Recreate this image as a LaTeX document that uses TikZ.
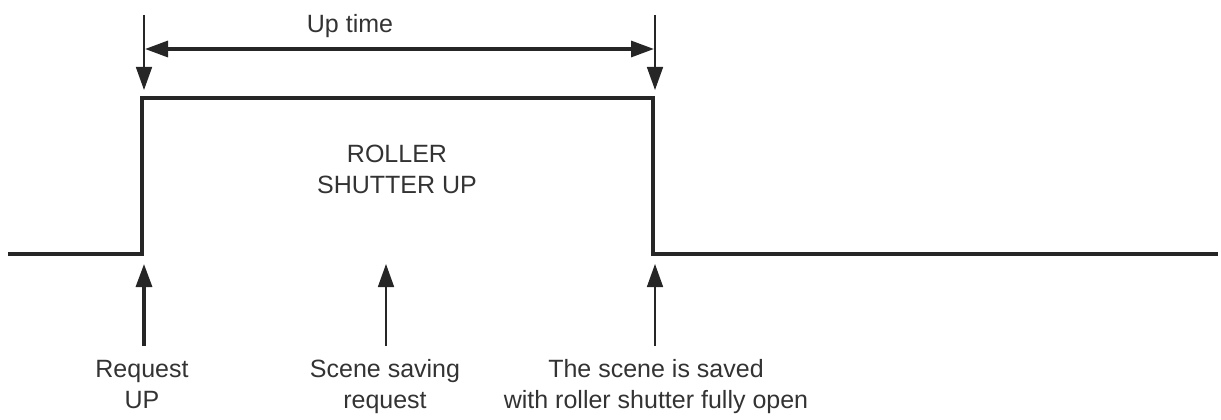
\documentclass[tikz,border=0pt]{standalone}
\usepackage{fontspec}
\setmainfont{Liberation Sans}
\usetikzlibrary{arrows.meta}
\begin{document}
\begin{tikzpicture}[x=1pt,y=-1pt,
  signal/.style={line width=4pt, draw=black!85, line join=miter},
  tip/.style={-{Triangle[length=23pt,width=16pt]}},
  thinarrow/.style={line width=1.6pt, draw=black!85, tip},
  thickarrow/.style={line width=3.2pt, draw=black!85, tip},
  lbl/.style={font=\fontsize{25}{31}\selectfont, text=black!80, align=center, inner sep=0pt, anchor=base}]
\useasboundingbox (0,0) rectangle (1221,420);
% signal
\coordinate (s0) at (8,254);
\coordinate (s1) at (142,254);
\coordinate (s2) at (142,98);
\coordinate (s3) at (653,98);
\coordinate (s4) at (653,254);
\coordinate (s5) at (1218,254);
\draw[signal] (s0) -- (s1) -- (s2) -- (s3) -- (s4) -- (s5);
% top markers
\coordinate (ta) at (144,15);
\coordinate (tb) at (144,90);
\coordinate (tc) at (655,15);
\coordinate (td) at (655,90);
\draw[thinarrow] (ta) -- (tb);
\draw[thinarrow] (tc) -- (td);
\coordinate (ha) at (145,49);
\coordinate (hb) at (654,49);
\draw[thickarrow, {Triangle[length=23pt,width=16pt]}-{Triangle[length=23pt,width=16pt]}] (ha) -- (hb);
\node[lbl] (uptime) at (350,33) {Up time};
% state label
\node[lbl] (state) at (397,193) {ROLLER\\SHUTTER UP};
% bottom markers
\coordinate (ba) at (144,346);
\coordinate (bb) at (144,264);
\coordinate (bc) at (386,346);
\coordinate (bd) at (386,264);
\coordinate (be) at (655,346);
\coordinate (bf) at (655,264);
\draw[thickarrow] (ba) -- (bb);
\draw[thinarrow] (bc) -- (bd);
\draw[thinarrow] (be) -- (bf);
\node[lbl] (req) at (142,408) {Request\\UP};
\node[lbl] (scene) at (385,408) {Scene saving\\request};
\node[lbl] (saved) at (656,408) {The scene is saved\\with roller shutter fully open};
\end{tikzpicture}
\end{document}
